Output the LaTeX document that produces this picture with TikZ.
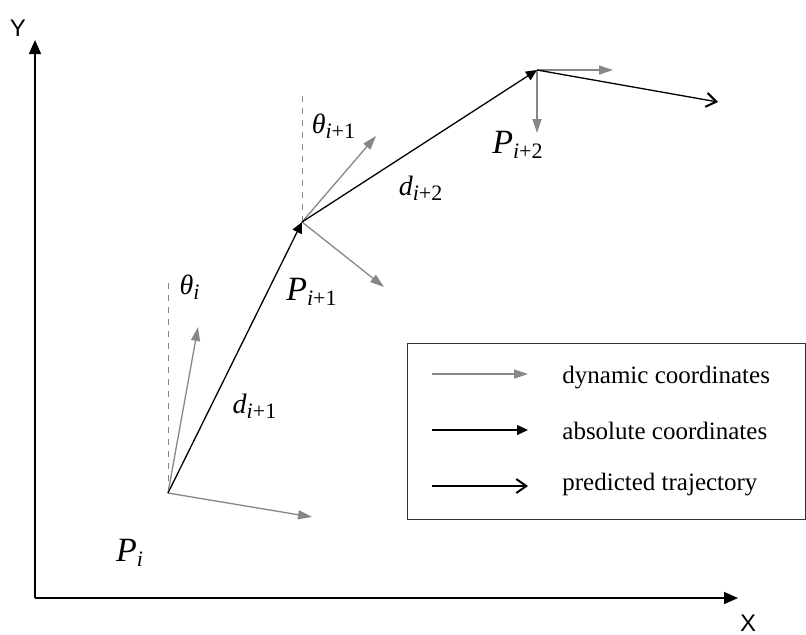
\documentclass[tikz,border=0pt]{standalone}
\usepackage{fontspec}
\setmainfont{Liberation Serif}
\setsansfont{Liberation Sans}
\usepackage{tikz}
\usetikzlibrary{arrows.meta, positioning}
\definecolor{dyngray}{RGB}{135,135,135}
\newcommand{\sub}[1]{\textsubscript{\fontsize{11}{11}\selectfont#1}}
\tikzset{
    % Axes
    axisline/.style={-{Triangle[length=7pt, width=6pt]}, line width=0.75pt, black},
    axislbl/.style={font=\sffamily\fontsize{12}{12}\selectfont},
    % Dynamic coordinates
    dynarrow/.style={-{Triangle[length=7pt, width=4.5pt]}, line width=0.65pt, dyngray},
    dynguide/.style={dashed, line width=0.5pt, dyngray},
    % Absolute coordinates
    absarrow/.style={-{Triangle[length=5.5pt, width=5pt]}, line width=0.65pt, black},
    % Predicted trajectory
    predarrow/.style={-{Straight Barb[length=5pt, width=7pt, line width=1pt]}, line width=0.65pt, black},
    % Labels
    mathlbl/.style={font=\fontsize{14}{14}\selectfont\itshape, inner sep=0pt},
    legtxt/.style={font=\fontsize{12.5}{13}\selectfont, anchor=west, inner sep=0pt},
    legbox/.style={draw, line width=0.6pt, black!80},
}

\begin{document}
\begin{tikzpicture}[x=0.5pt, y=-0.5pt]
\useasboundingbox (0,0) rectangle (806,634);

% axes
\coordinate (origin) at (35,598);
\node[axislbl] (ylbl) at (18,28)  {Y};
\node[axislbl] (xlbl) at (748,623) {X};
\coordinate (ytip) at (35,40);
\coordinate (xtip) at (738,598);
\draw[axisline] (origin) -- (ytip);
\draw[axisline] (origin) -- (xtip);

% trajectory points
\coordinate (pi)  at (168,493);
\coordinate (pi1) at (302,222);
\coordinate (pi2) at (537,70);
\coordinate (pnext) at (718,102);

% guides
\coordinate (gi)  at (168,278);
\coordinate (gi1) at (302,95);
\draw[dynguide] (pi) -- (gi);
\draw[dynguide] (pi1) -- (gi1);

% dynamic frames
\coordinate (ai)  at (198,327);
\coordinate (bi)  at (312,517);
\coordinate (ai1) at (376,136);
\coordinate (bi1) at (384,287);
\coordinate (ai2) at (613,70);
\coordinate (bi2) at (537,133);
\draw[dynarrow] (pi) -- (ai);
\draw[dynarrow] (pi) -- (bi);
\draw[dynarrow] (pi1) -- (ai1);
\draw[dynarrow] (pi1) -- (bi1);
\draw[dynarrow] (pi2) -- (ai2);
\draw[dynarrow] (pi2) -- (bi2);

% absolute coordinates and prediction
\draw[absarrow] (pi) -- (pi1);
\draw[absarrow] (pi1) -- (pi2);
\draw[predarrow] (pi2) -- (pnext);

% labels
\node[mathlbl] (thi)  at (190,287) {θ\sub{i}};
\node[mathlbl] (thi1) at (334,126) {θ\sub{i\upshape+1}};
\node[mathlbl] (lpi)  at (130,553) {\fontsize{17}{17}\selectfont P\sub{i}};
\node[mathlbl] (lpi1) at (312,292) {\fontsize{17}{17}\selectfont P\sub{i\upshape+1}};
\node[mathlbl] (lpi2) at (518,145) {\fontsize{17}{17}\selectfont P\sub{i\upshape+2}};
\node[mathlbl] (ldi1) at (255,406) {d\sub{i\upshape+1}};
\node[mathlbl] (ldi2) at (421,188) {d\sub{i\upshape+2}};

% legend
\node[legbox, minimum width=199pt, minimum height=88pt, inner sep=0pt,
      anchor=north west] (legend) at (407,343) {};
\coordinate (l1a) at (432,374);
\coordinate (l1b) at (528,374);
\coordinate (l2a) at (432,430);
\coordinate (l2b) at (528,430);
\coordinate (l3a) at (432,486);
\coordinate (l3b) at (528,486);
\draw[dynarrow] (l1a) -- (l1b);
\draw[absarrow] (l2a) -- (l2b);
\draw[predarrow] (l3a) -- (l3b);
\node[legtxt] (t1) at (562,378) {dynamic coordinates};
\node[legtxt] (t2) at (562,431) {absolute coordinates};
\node[legtxt] (t3) at (562,485) {predicted trajectory};
\end{tikzpicture}
\end{document}
